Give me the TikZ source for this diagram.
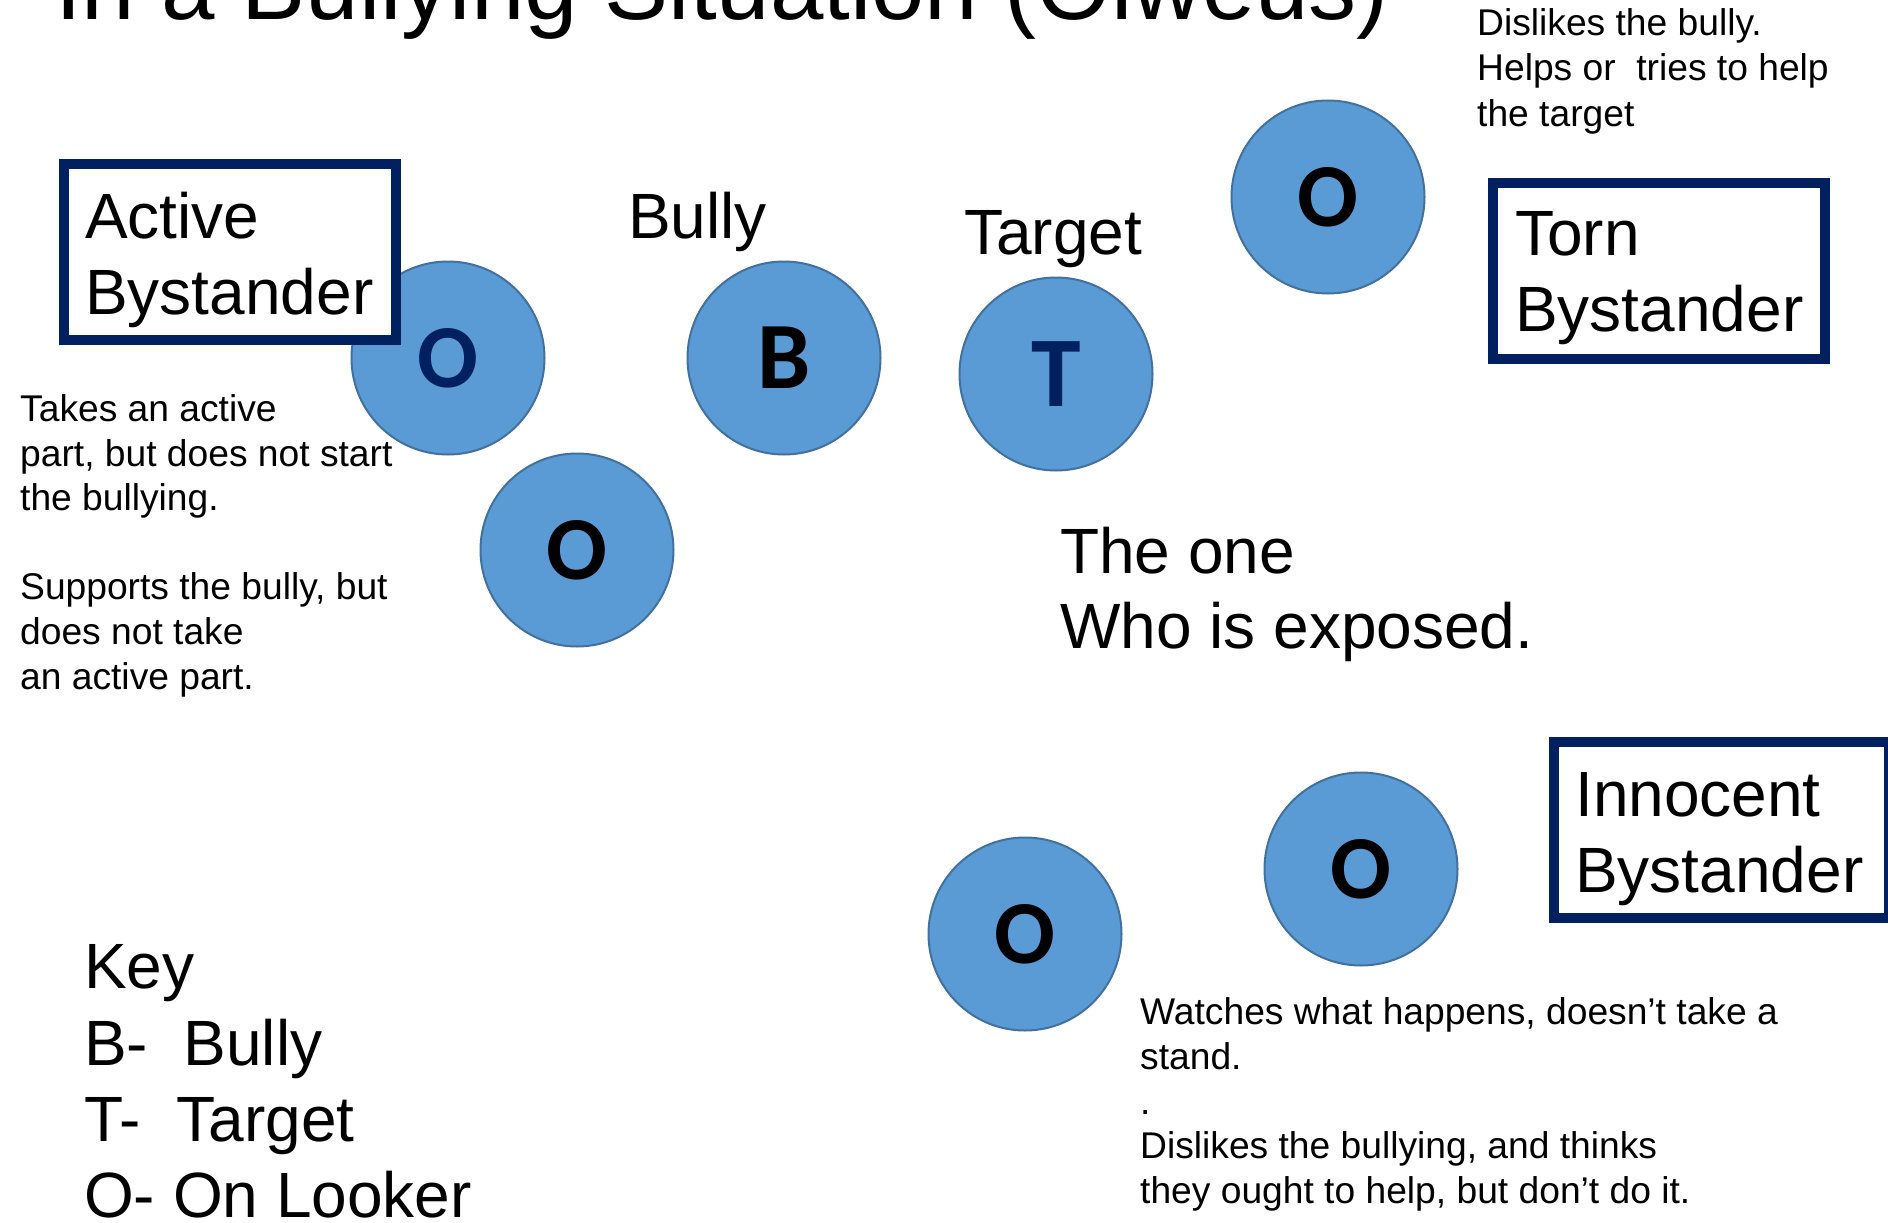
\documentclass[tikz,border=0pt]{standalone}
\usepackage{fontspec}
\setmainfont{Liberation Sans}
\newfontfamily\circfont{Carlito}
\definecolor{circfill}{HTML}{5B9BD5}
\definecolor{circedge}{HTML}{41719C}
\definecolor{navy}{HTML}{002060}
\begin{document}
\begin{tikzpicture}[x=1pt,y=-1pt,
  person/.style={circle, fill=circfill, draw=circedge, line width=2pt, minimum size=193pt, inner sep=0pt, font=\circfont\bfseries\fontsize{90}{90}\selectfont},
  rolebox/.style={rectangle, draw=navy, fill=white, line width=10pt, minimum width=332pt, minimum height=176pt, inner sep=0pt},
  big/.style={anchor=base west, inner sep=0pt, font=\fontsize{64}{76}\selectfont},
  small/.style={anchor=base west, inner sep=0pt, font=\fontsize{37.2}{45}\selectfont},
  titletext/.style={anchor=base west, inner sep=0pt, font=\fontsize{96}{96}\selectfont}]
\useasboundingbox (0,0) rectangle (1888,1223);
\clip (0,0) rectangle (1888,1223);
\fill[white] (0,0) rectangle (1888,1223);

% title (cut off at top)
\node[titletext] (title) at (55,20) {In a Bullying Situation (Olweus)};

% circles
\node[person, text=navy] (ao1) at (448,358) {O};
\node[person] (ao2) at (577,550) {O};
\node[person, font=\circfont\bfseries\fontsize{95}{95}\selectfont] (bully) at (784,358) {B};
\node[person, text=navy, font=\circfont\bfseries\fontsize{100}{100}\selectfont] (target) at (1056,374) {T};
\node[person] (to) at (1328,197) {O};
\node[person] (io1) at (1025,934) {O};
\node[person] (io2) at (1361,869) {O};

% boxes
\node[rolebox] (activebox) at (230,252) {};
\node[rolebox] (tornbox) at (1659,271) {};
\node[rolebox, minimum width=335pt] (innobox) at (1721,830) {};

\node[big] (active1) at (85,238) {Active};
\node[big] (active2) at (85,314) {Bystander};
\node[big] (torn1) at (1515,255) {Torn};
\node[big] (torn2) at (1515,331) {Bystander};
\node[big] (inno1) at (1575,816) {Innocent};
\node[big] (inno2) at (1575,892) {Bystander};

\node[big] (bullylbl) at (628,238) {Bully};
\node[big] (targetlbl) at (964,254) {Target};
\node[big] (exposed1) at (1060,573) {The one};
\node[big] (exposed2) at (1060,648) {Who is exposed.};

\node[big] (key0) at (84,988) {Key};
\node[big] (key1) at (84,1065) {B-\ \ Bully};
\node[big] (key2) at (84,1141) {T-\ \ Target};
\node[big] (key3) at (84,1217) {O- On Looker};

% descriptions
\node[small] (act1) at (20,421) {Takes an active};
\node[small] (act2) at (20,466) {part, but does not start};
\node[small] (act3) at (20,510) {the bullying.};
\node[small] (act4) at (20,599) {Supports the bully, but};
\node[small] (act5) at (20,644) {does not take};
\node[small] (act6) at (20,689) {an active part.};

\node[small] (torn3) at (1477,36) {Dislikes the bully.};
\node[small] (torn4) at (1477,81) {Helps or\ \ tries to help};
\node[small] (torn5) at (1477,126) {the target};

\node[small] (inno3) at (1140,1024) {Watches what happens, doesn’t take a};
\node[small] (inno4) at (1140,1069) {stand.};
\node[small] (inno5) at (1140,1114) {.};
\node[small] (inno6) at (1140,1158) {Dislikes the bullying, and thinks};
\node[small] (inno7) at (1140,1203) {they ought to help, but don’t do it.};
\end{tikzpicture}
\end{document}
